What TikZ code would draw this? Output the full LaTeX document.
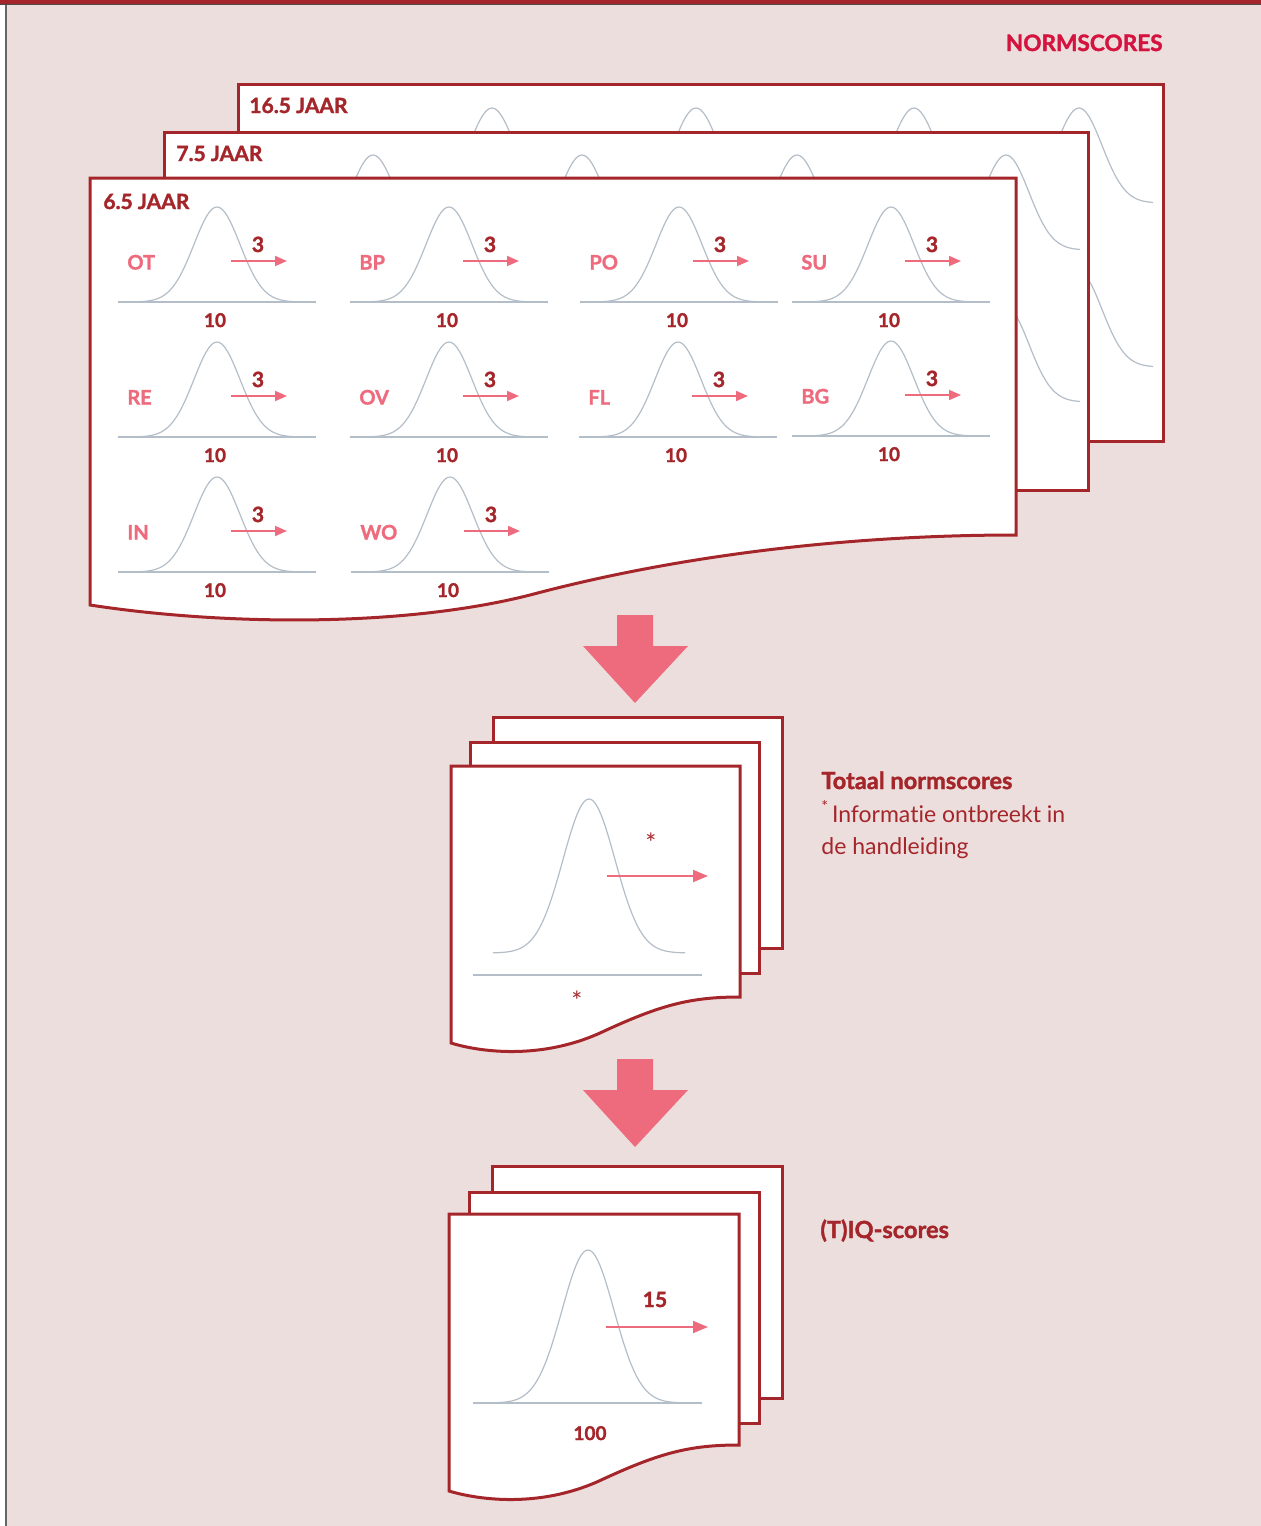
\documentclass[tikz,border=0pt]{standalone}
\usepackage{fontspec}
\setmainfont{Lato}[Ligatures={NoCommon},BoldFeatures={FakeBold=1.5}]
\usetikzlibrary{arrows.meta}
\definecolor{bgpink}{HTML}{EDDEDE}
\definecolor{dred}{HTML}{A5262A}
\definecolor{pinkc}{HTML}{EE6B7E}
\definecolor{curveg}{HTML}{B4BEC8}
\definecolor{crim}{HTML}{D5133F}

\newcommand\normcell[4]{%
  \coordinate (#4) at (#1,#2);
  \coordinate (#4-end) at (#1+198,#2);
  \draw[axisline] (#4) -- (#4-end);
  \draw[bellline] plot[domain=-80:80,samples=61] ({#1+99+\x},{#2-95*exp(-0.5*(\x/23)^2)});
  \coordinate (#4-a0) at (#1+113,#2-41);
  \coordinate (#4-a1) at (#1+169,#2-41);
  \draw[sdarrow] (#4-a0) -- (#4-a1);
  \node[cat] (#4-lbl) at (#1+9,#2-32.5) {#3};
  \node[sdnum] (#4-sd) at (#1+140,#2-50) {3};
  \node[num] (#4-m) at (#1+97,#2+25) {10};
}
\newcommand\backbell[2]{%
  \draw[bellline] plot[domain=-74:74,samples=61] ({#1+\x},{#2-95*exp(-0.5*(\x/23)^2)});
}
\newcommand\bigbell[3]{%
  \draw[bellline] plot[domain=-96:96,samples=81] ({#1+\x},{#2-#3*exp(-0.5*(\x/26)^2)});
}

\begin{document}
\begin{tikzpicture}[x=0.5pt,y=-0.5pt,
  sheet/.style={fill=white,draw=dred,line width=1.5pt,line join=miter},
  bellline/.style={draw=curveg,line width=0.6pt},
  axisline/.style={draw=curveg,line width=0.8pt},
  sdarrow/.style={draw=pinkc,line width=0.9pt,-{Triangle[length=6pt,width=5pt]}},
  bigsd/.style={draw=pinkc,line width=0.9pt,-{Triangle[length=7.5pt,width=6pt]}},
  cat/.style={text=pinkc,font=\bfseries\fontsize{10}{12}\selectfont,inner sep=0pt,anchor=base west},
  num/.style={text=dred,font=\bfseries\fontsize{9.5}{11}\selectfont,inner sep=0pt,anchor=base},
  sdnum/.style={text=dred,font=\bfseries\fontsize{10.5}{12}\selectfont,inner sep=0pt,anchor=base},
  sheettitle/.style={text=dred,font=\bfseries\fontsize{10.5}{12}\selectfont,inner sep=0pt,anchor=base west},
  sidehead/.style={text=dred,font=\bfseries\fontsize{11.8}{13}\selectfont,inner sep=0pt,anchor=base west},
  sidetext/.style={text=dred,font=\fontsize{11.5}{13}\selectfont,inner sep=0pt,anchor=base west},
  star/.style={text=dred,font=\fontsize{13}{14}\selectfont,inner sep=0pt,anchor=north},
  bigarrow/.style={fill=pinkc},
  ]
\useasboundingbox (0,0) rectangle (1261,1526);
\fill[white] (0,0) rectangle (1261,1526);
\fill[bgpink] (6,0) rectangle (1261,1526);
\fill[black!60] (5,0) rectangle (7,1526);
\fill[dred] (0,0) rectangle (1261,3.5);
\fill[black!70] (0,3.5) rectangle (1261,4.5);

\node[text=crim,font=\bfseries\fontsize{11.3}{13}\selectfont,inner sep=0pt,anchor=base east] (title) at (1163,51) {NORMSCORES};

% sheet 16.5
\draw[sheet] (238,84) rectangle (1163,441);
\foreach \px in {492,696,914,1079}{\backbell{\px}{203}\backbell{\px}{367}}
\node[sheettitle] (t165) at (249,113) {16.5 JAAR};

% sheet 7.5
\draw[sheet] (164,132) rectangle (1088,490);
\foreach \px in {373,582,797,1006}{\backbell{\px}{250}\backbell{\px}{402}}
\node[sheettitle] (t75) at (176,161) {7.5 JAAR};

% sheet 6.5
\draw[sheet] (90,605) -- (90,178) -- (1016,178) -- (1016,535)
  .. controls (850,535) and (680,555) .. (530,595)
  .. controls (400,628) and (220,625) .. (90,605) -- cycle;
\node[sheettitle] (t65) at (103,209) {6.5 JAAR};

\normcell{118}{302}{OT}{ot}
\normcell{350}{302}{BP}{bp}
\normcell{580}{302}{PO}{po}
\normcell{792}{302}{SU}{su}
\normcell{118}{437}{RE}{re}
\normcell{350}{437}{OV}{ov}
\normcell{579}{437}{FL}{fl}
\normcell{792}{436}{BG}{bg}
\normcell{118}{572}{IN}{in}
\normcell{351}{572}{WO}{wo}

% arrow 1
\fill[bigarrow] (617,615) -- (653,615) -- (653,646) -- (688,646) -- (635,703) -- (583,646) -- (617,646) -- cycle;

% middle stack
\draw[sheet] (493,717) rectangle (782,948);
\draw[sheet] (470,742) rectangle (759,973);
\draw[sheet] (451,1043) -- (451,766) -- (740,766) -- (740,997)
  .. controls (690,997) and (660,1005) .. (600,1033)
  .. controls (540,1060) and (480,1052) .. (451,1043) -- cycle;
\bigbell{589}{953}{154}
\coordinate (tl0) at (473,975);
\coordinate (tl1) at (702,975);
\draw[axisline] (tl0) -- (tl1);
\coordinate (ta0) at (607,876);
\coordinate (ta1) at (708,876);
\draw[bigsd] (ta0) -- (ta1);
\node[star] (tsd) at (651,833) {*};
\node[star] (tmean) at (577,991) {*};

\node[sidehead] (th) at (821,789) {Totaal normscores};
\node[sidetext] (tn1) at (821,822) {\raisebox{0.4em}{\fontsize{8}{9}\selectfont *}\,Informatie ontbreekt in};
\node[sidetext] (tn2) at (821,854) {de handleiding};

% arrow 2
\fill[bigarrow] (617,1059) -- (653,1059) -- (653,1090) -- (688,1090) -- (635,1147) -- (583,1090) -- (617,1090) -- cycle;

% bottom stack
\draw[sheet] (492,1166) rectangle (782,1398);
\draw[sheet] (469,1192) rectangle (759,1423);
\draw[sheet] (449,1491) -- (449,1214) -- (739,1214) -- (739,1445)
  .. controls (689,1445) and (659,1453) .. (599,1481)
  .. controls (539,1508) and (479,1500) .. (449,1491) -- cycle;
\bigbell{588}{1403}{153}
\coordinate (il0) at (473,1403);
\coordinate (il1) at (702,1403);
\draw[axisline] (il0) -- (il1);
\coordinate (ia0) at (606,1327);
\coordinate (ia1) at (708,1327);
\draw[bigsd] (ia0) -- (ia1);
\node[sdnum] (isd) at (655,1307) {15};
\node[num] (imean) at (590,1440) {100};

\node[sidehead] (ih) at (820,1238) {(T)IQ-scores};
\end{tikzpicture}
\end{document}
